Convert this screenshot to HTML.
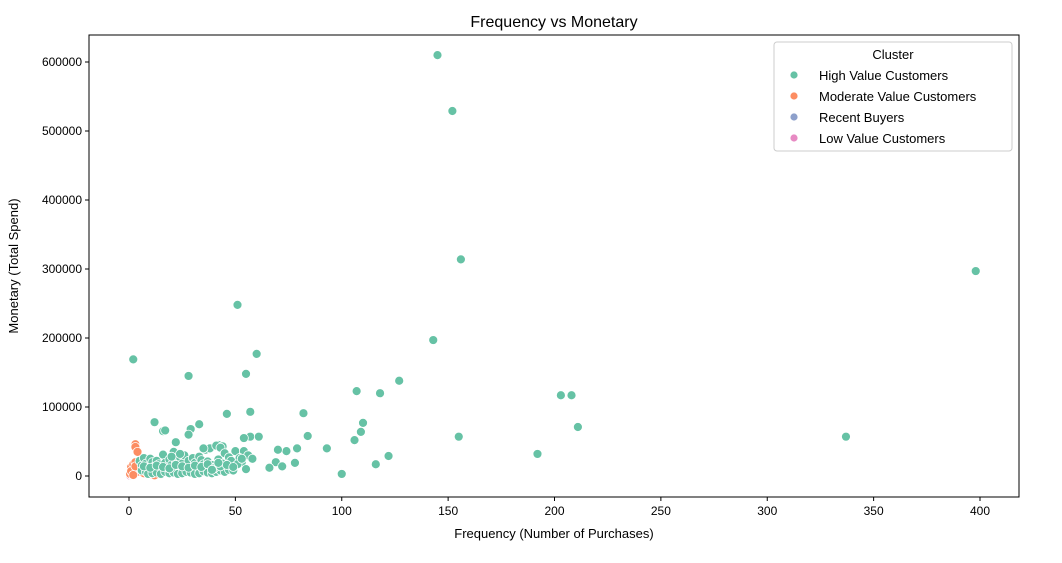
<!DOCTYPE html>
<html><head><meta charset="utf-8"><style>
html,body{margin:0;padding:0;background:#fff;}
svg{display:block;font-family:"Liberation Sans","DejaVu Sans",sans-serif;}
</style></head><body>
<svg id="chart" width="1062" height="563"></svg>
<script>
const clusterNames = ["High Value Customers","Moderate Value Customers","Recent Buyers","Low Value Customers"];
const clusterColors = ["#66c2a5","#fc8d62","#8da0cb","#e78ac3"];
const xTicks = [0,50,100,150,200,250,300,350,400];
const yTicks = [0,100000,200000,300000,400000,500000,600000];
const highFreq = [145,152,156,398,51,143,2,60,28,55,107,118,127,203,208,211,337,192,155,100,82,46,57,110,109,106,116,122,93,84,79,78,74,70,69,66,72,12,33,29,28,16,17,22,42,44,57,61,54,50,54,
 5,6,7,8,9,10,11,12,13,14,15,16,17,18,19,20,21,22,23,24,25,26,27,28,29,30,31,32,33,34,35,36,37,38,39,40,41,42,43,44,45,46,47,48,52,53,55,56,58,
 6,8,10,12,14,16,18,20,22,24,26,28,30,32,34,36,38,40,42,44,46,9,11,13,15,17,19,21,23,25,27,29,31,33,35,37,39,41,43,45,47,49,51,53,
 7,10,13,16,19,22,25,28,31,34,37,40,43,46,49,20,24,35,39,42];
const highMon = [610000,529000,314000,297000,248000,197000,169000,177000,145000,148000,123000,120000,138000,117000,117000,71000,57000,32000,57000,3000,91000,90000,93000,77000,64000,52000,17000,29000,40000,58000,40000,19000,36000,38000,20000,12000,14000,78000,75000,68000,60000,65000,66000,49000,45000,43000,57000,57000,55000,36000,36000,
 22000,15000,26000,18000,12000,25000,20000,14000,22000,17000,10000,31000,19000,13000,24000,16000,35000,21000,12000,27000,18000,30000,15000,22000,11000,26000,19000,14000,28000,23000,17000,38000,21000,40000,16000,12000,44000,24000,41000,18000,33000,13000,27000,22000,26000,20000,10000,30000,25000,
 8000,6000,9000,7000,5000,10000,8000,6000,9000,5000,11000,7000,8000,6000,10000,9000,7000,11000,8000,10000,12000,3000,4000,5000,3000,6000,4000,5000,3000,4000,6000,5000,3000,4000,7000,5000,4000,6000,8000,6000,9000,8000,17000,25000,
 14000,12000,15000,13000,11000,16000,14000,12000,15000,13000,17000,11000,14000,16000,13000,28000,32000,40000,9000,19000];
const modFreq = [3,3,4,1,0.5,2,4,8,15,2,3,5,6,7,1,2,9,10,12,3];
const modMon = [46000,42000,35000,13000,3000,9000,6000,5000,2000,17000,20000,11000,8000,4000,7000,1500,3000,2500,1000,14000];
const recentFreq = [1,2];
const recentMon = [1500,800];
const lowFreq = [1,0.5];
const lowMon = [1000,500];

const svg = document.getElementById('chart');
const NS = 'http://www.w3.org/2000/svg';
const L=89,R=1019,T=35,B=497;
function xs(v){return 129 + v*(851/400);}
function ys(v){return 476 - v*(414/600000);}
function mk(tag,attrs,parent){const e=document.createElementNS(NS,tag);for(const k in attrs)e.setAttribute(k,attrs[k]);(parent||svg).appendChild(e);return e;}

const title = mk('text',{x:554,y:27,'text-anchor':'middle','font-size':16,fill:'#000'});
title.textContent='Frequency vs Monetary';



const pts = mk('g',{});


function drawSeries(fx,my,color,name){
  for(let i=0;i<fx.length;i++){
    const c=mk('circle',{cx:xs(fx[i]),cy:ys(my[i]),r:4.5,fill:color,stroke:'#fff','stroke-width':0.8},pts);
    
    
  }
}
drawSeries(lowFreq,lowMon,clusterColors[3],'low-value-point');
drawSeries(recentFreq,recentMon,clusterColors[2],'recent-buyer-point');
drawSeries(modFreq,modMon,clusterColors[1],'moderate-value-point');
drawSeries(highFreq,highMon,clusterColors[0],'high-value-point');

const frame = mk('rect',{x:L,y:T,width:R-L,height:B-T,fill:'none',stroke:'#000','stroke-width':1});



xTicks.forEach(t=>{
  const x=xs(t);
  const tk=mk('line',{x1:x,x2:x,y1:B,y2:B+4,stroke:'#000'});
  
  
  const lb=mk('text',{x:x,y:B+18,'text-anchor':'middle','font-size':12});
  lb.textContent=t;
  
  
});
yTicks.forEach(t=>{
  const y=ys(t);
  const tk=mk('line',{x1:L-4,x2:L,y1:y,y2:y,stroke:'#000'});
  
  
  const lb=mk('text',{x:L-7,y:y+4,'text-anchor':'end','font-size':12});
  lb.textContent=t;
  
  
});
const xt=mk('text',{x:554,y:538,'text-anchor':'middle','font-size':13});
xt.textContent='Frequency (Number of Purchases)';


const yt=mk('text',{x:18,y:266,'text-anchor':'middle','font-size':13,transform:'rotate(-90 18 266)'});
yt.textContent='Monetary (Total Spend)';



const lg=mk('g',{});


mk('rect',{x:774,y:42,width:238,height:109,rx:3,fill:'#fff','fill-opacity':0.8,stroke:'#ccc'},lg);
const lt=mk('text',{x:893,y:59,'text-anchor':'middle','font-size':13},lg);
lt.textContent='Cluster';


clusterNames.forEach((n,i)=>{
  const y=75+i*21;
  const e=mk('g',{},lg);
  
  
  mk('circle',{cx:794,cy:y,r:4,fill:clusterColors[i],stroke:'#fff','stroke-width':0.8},e);
  const t=mk('text',{x:819,y:y+5,'font-size':13},e);
  t.textContent=n;
});
</script>
</body></html>
